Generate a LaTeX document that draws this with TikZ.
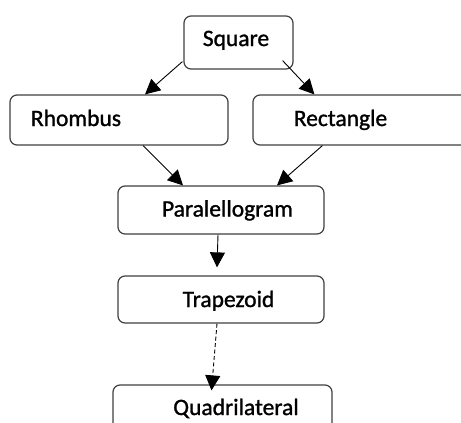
\documentclass[tikz,border=0pt]{standalone}
\usepackage{fontspec}
\setmainfont{Carlito}
\newfontfamily\lblfont{Carlito}[FakeBold=1.2]
\usetikzlibrary{arrows.meta,calc}
\begin{document}
\begin{tikzpicture}[x=1pt,y=-1pt,
  box/.style={draw=black!75,line width=1.2pt,rounded corners=7pt,inner sep=0pt,fill=white},
  lbl/.style={anchor=base,inner sep=0pt,font=\lblfont\fontsize{23.5}{28}\selectfont,text=black},
  arr/.style={line width=0.9pt,-{Triangle[length=15pt,width=15pt]}},
  dsh/.style={arr,dash pattern=on 4pt off 2.5pt}]
\useasboundingbox (0,0) rectangle (461,423);
\node[box,minimum width=109pt,minimum height=53pt] (sq) at (238.5,42.5) {};
\node[box,minimum width=218pt,minimum height=50pt] (rh) at (119,120) {};
\node[box,minimum width=230pt,minimum height=50pt] (re) at (368,120) {};
\node[box,minimum width=206pt,minimum height=48pt] (pa) at (221,210) {};
\node[box,minimum width=206pt,minimum height=47pt] (tr) at (221,299.5) {};
\node[box,minimum width=219pt,minimum height=56pt] (qu) at (222.5,413) {};
\node[lbl] (sqt) at (236,46) {Square};
\node[lbl] (rht) at (76,126) {Rhombus};
\node[lbl] (ret) at (340.5,126) {Rectangle};
\node[lbl] (pat) at (227.5,216.5) {Paralellogram};
\node[lbl] (trt) at (228.5,307) {Trapezoid};
\node[lbl] (qut) at (236,415) {Quadrilateral};
\draw[arr] ($(sq.south west)+(-1,-8)$) -- ($(rh.north)+(26,0)$);
\draw[arr] ($(sq.south east)+(-11,-9)$) -- ($(re.north west)+(62,0)$);
\draw[arr] ($(rh.south)+(24,0)$) -- ($(pa.north)+(-38,0)$);
\draw[arr] ($(re.south west)+(70,0)$) -- ($(pa.north)+(56,0)$);
\draw[arr] ($(pa.south)+(-3,0)$) -- ($(tr.north)+(-4,-8)$);
\draw[dsh] ($(tr.south)+(-4,0)$) -- ($(qu.north)+(-11,6)$);
\end{tikzpicture}
\end{document}
